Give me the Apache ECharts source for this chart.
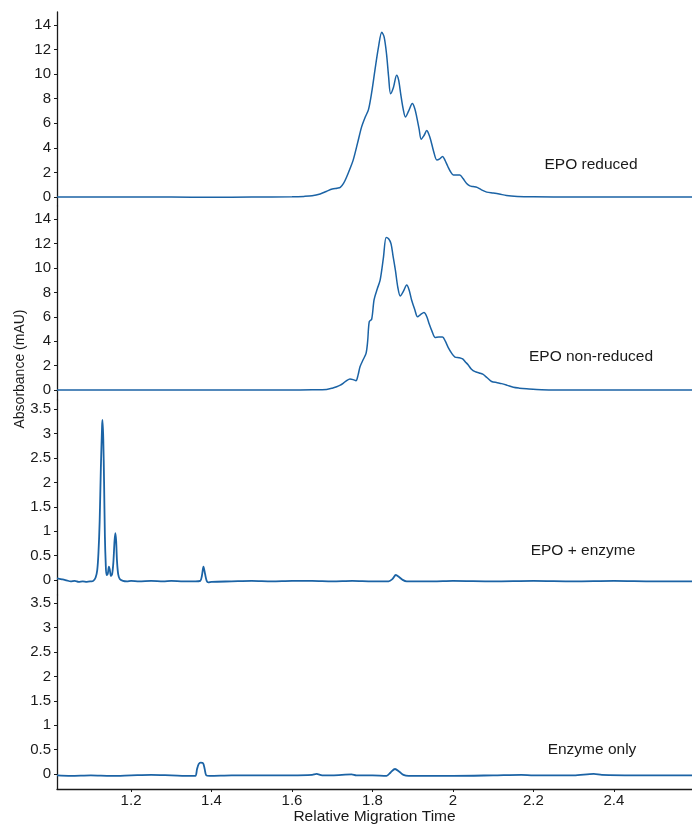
<!DOCTYPE html>
<html>
<head>
<meta charset="utf-8">
<script src="https://cdn.jsdelivr.net/npm/echarts@6/dist/echarts.min.js"></script>
<style>
html,body{margin:0;padding:0;background:#fff;}
#chart{width:692px;height:825px;}
</style>
</head>
<body>
<div id="chart"></div>
<script>
// ---- data (x = relative migration time, y = absorbance mAU) ----
const xTicks = [1.2, 1.4, 1.6, 1.8, 2.0, 2.2, 2.4];
const yTicksLarge = [0, 2, 4, 6, 8, 10, 12, 14];
const yTicksSmall = [0, 0.5, 1, 1.5, 2, 2.5, 3, 3.5];
const panelLabels = ['EPO reduced', 'EPO non-reduced', 'EPO + enzyme', 'Enzyme only'];

const epoReduced = [
  [1.016,0],[1.1,0],[1.2,0],[1.3,0],[1.4,-0.02],[1.5,0],[1.6,0.02],[1.63,0.05],[1.65,0.1],
  [1.67,0.25],[1.685,0.45],[1.7,0.65],[1.712,0.72],[1.72,0.78],[1.728,1.1],[1.736,1.65],
  [1.744,2.3],[1.752,3.0],[1.763,4.4],[1.773,5.7],[1.782,6.5],[1.79,7.1],[1.798,8.5],
  [1.806,10.3],[1.815,12.2],[1.823,13.4],[1.829,13.0],[1.835,11.6],[1.84,9.8],[1.845,8.4],
  [1.852,8.9],[1.86,9.9],[1.865,9.5],[1.87,8.4],[1.876,7.2],[1.882,6.5],[1.89,7.0],
  [1.899,7.6],[1.905,7.2],[1.91,6.5],[1.916,5.5],[1.921,4.7],[1.928,5.0],[1.935,5.4],
  [1.94,5.1],[1.945,4.6],[1.952,3.7],[1.96,3.0],[1.967,3.1],[1.974,3.3],[1.98,3.0],
  [1.987,2.5],[1.995,2.0],[2.001,1.8],[2.01,1.8],[2.017,1.8],[2.025,1.5],[2.034,1.1],
  [2.042,0.9],[2.05,0.85],[2.06,0.78],[2.07,0.6],[2.084,0.4],[2.1,0.33],[2.115,0.25],
  [2.133,0.12],[2.16,0.05],[2.2,0.02],[2.3,0],[2.4,0],[2.5,0],[2.594,0]
];

const epoNonReduced = [
  [1.016,0],[1.2,0],[1.4,0],[1.6,0],[1.65,0.02],[1.686,0.05],[1.7,0.15],[1.711,0.27],
  [1.72,0.4],[1.727,0.55],[1.735,0.75],[1.744,0.9],[1.752,0.85],[1.759,0.76],[1.764,1.2],
  [1.769,1.9],[1.777,2.5],[1.784,3.0],[1.788,4.0],[1.792,5.6],[1.798,5.8],[1.804,7.4],
  [1.812,8.3],[1.819,9.0],[1.827,10.8],[1.834,12.5],[1.84,12.4],[1.846,12.0],[1.851,11.0],
  [1.857,9.8],[1.863,8.4],[1.869,7.7],[1.877,8.1],[1.885,8.6],[1.891,8.2],[1.897,7.4],
  [1.905,6.6],[1.912,6.0],[1.92,6.2],[1.928,6.35],[1.935,6.0],[1.941,5.4],[1.948,4.8],
  [1.956,4.3],[1.965,4.35],[1.974,4.35],[1.981,4.0],[1.988,3.5],[1.997,3.0],[2.005,2.7],
  [2.015,2.65],[2.024,2.55],[2.031,2.3],[2.038,2.05],[2.046,1.7],[2.055,1.5],[2.065,1.4],
  [2.074,1.3],[2.085,1.0],[2.096,0.7],[2.11,0.6],[2.121,0.52],[2.135,0.38],[2.15,0.22],
  [2.165,0.15],[2.183,0.1],[2.22,0.03],[2.3,0],[2.594,0]
];

const epoEnzyme = [
  [1.016,0.03],[1.022,0.02],[1.03,0.01],[1.04,-0.01],[1.05,-0.03],[1.06,-0.02],[1.07,-0.04],
  [1.08,-0.03],[1.09,-0.04],[1.1,-0.03],[1.106,-0.02],[1.112,0.05],[1.116,0.2],[1.119,0.55],
  [1.122,1.2],[1.125,2.3],[1.128,3.15],[1.129,3.28],[1.131,2.9],[1.133,2.0],[1.135,0.9],
  [1.137,0.35],[1.139,0.1],[1.142,0.12],[1.145,0.27],[1.147,0.22],[1.15,0.08],[1.153,0.12],
  [1.156,0.35],[1.159,0.8],[1.161,0.96],[1.163,0.8],[1.165,0.4],[1.168,0.12],[1.172,0.02],
  [1.18,-0.02],[1.19,-0.03],[1.2,-0.02],[1.22,-0.03],[1.25,-0.02],[1.28,-0.03],[1.3,-0.02],
  [1.33,-0.03],[1.36,-0.03],[1.372,-0.02],[1.376,0.08],[1.38,0.27],[1.384,0.12],[1.388,-0.02],
  [1.392,-0.05],[1.4,-0.04],[1.45,-0.03],[1.5,-0.02],[1.55,-0.03],[1.6,-0.02],[1.65,-0.02],
  [1.7,-0.03],[1.75,-0.02],[1.8,-0.03],[1.84,-0.03],[1.85,0.02],[1.858,0.1],[1.866,0.06],
  [1.875,0.0],[1.885,-0.03],[1.95,-0.03],[2.0,-0.02],[2.1,-0.03],[2.2,-0.02],[2.3,-0.03],
  [2.4,-0.02],[2.5,-0.03],[2.594,-0.03]
];

const enzymeOnly = [
  [1.016,-0.03],[1.05,-0.04],[1.1,-0.03],[1.15,-0.04],[1.2,-0.03],[1.25,-0.02],[1.3,-0.03],
  [1.35,-0.04],[1.36,-0.04],[1.364,0.1],[1.368,0.2],[1.373,0.23],[1.379,0.22],[1.383,0.1],
  [1.387,-0.03],[1.395,-0.04],[1.45,-0.03],[1.5,-0.03],[1.55,-0.03],[1.6,-0.03],[1.65,-0.02],
  [1.661,0.0],[1.675,-0.03],[1.7,-0.03],[1.748,-0.01],[1.76,-0.03],[1.8,-0.03],[1.835,-0.04],
  [1.845,0.03],[1.856,0.1],[1.866,0.05],[1.877,-0.02],[1.89,-0.04],[1.95,-0.04],[2.0,-0.04],
  [2.1,-0.03],[2.17,-0.02],[2.2,-0.03],[2.3,-0.03],[2.35,0.0],[2.37,-0.02],[2.45,-0.03],
  [2.55,-0.03],[2.594,-0.03]
];

const panelSeries = [epoReduced, epoNonReduced, epoEnzyme, enzymeOnly];
const yRanges = [[-0.73, 15.04], [-0.82, 15.08], [-0.31, 3.69], [-0.31, 3.67]];
const yTickSets = [yTicksLarge, yTicksLarge, yTicksSmall, yTicksSmall];
const xMin = 1.016, xMax = 2.594;

// ---- layout ----
const FONT = '"Liberation Sans", Arial, sans-serif';
const LINE = '#1b63a5';
const grids = [
  {left: 57, width: 635, top: 12, height: 194},
  {left: 57, width: 635, top: 206, height: 194},
  {left: 57, width: 635, top: 400, height: 195},
  {left: 57, width: 635, top: 595, height: 194}
].map(g => Object.assign(g, {containLabel: false, outerBoundsMode: 'none'}));

const xAxes = grids.map((g, i) => {
  const last = i === grids.length - 1;
  return {
    type: 'value', gridIndex: i, min: xMin, max: xMax,
    show: true,
    axisLine: {show: last, onZero: false, lineStyle: {color: '#1a1a1a', width: 1.3}},
    axisTick: {show: last, inside: false, length: 3, customValues: xTicks, lineStyle: {color: '#1a1a1a'}},
    axisLabel: {show: last, customValues: xTicks, margin: 4, fontFamily: FONT, fontSize: 15, color: '#1a1a1a',
      formatter: v => String(Math.round(v * 10) / 10)},
    splitLine: {show: false},
    name: last ? 'Relative Migration Time' : '',
    nameLocation: 'middle', nameGap: 20,
    nameTextStyle: {fontFamily: FONT, fontSize: 15.5, color: '#1a1a1a'}
  };
});

const yAxes = grids.map((g, i) => ({
  type: 'value', gridIndex: i, min: yRanges[i][0], max: yRanges[i][1],
  axisLine: {show: true, onZero: false, lineStyle: {color: '#1a1a1a', width: 1.3}},
  axisTick: {show: true, inside: false, length: 3, customValues: yTickSets[i], lineStyle: {color: '#1a1a1a'}},
  axisLabel: {show: true, customValues: yTickSets[i], margin: 6, fontFamily: FONT, fontSize: 15, color: '#1a1a1a'},
  splitLine: {show: false}
}));

const series = panelSeries.map((d, i) => ({
  type: 'line', xAxisIndex: i, yAxisIndex: i, data: d,
  showSymbol: false, symbol: 'none', smooth: 0.3, animation: false,
  lineStyle: {color: LINE, width: i < 2 ? 1.5 : 1.8}
}));

const labelPos = [[591, 165], [591, 357], [583, 551], [592, 750]];
const graphic = panelLabels.map((t, i) => ({
  type: 'text', x: labelPos[i][0], y: labelPos[i][1],
  style: {text: t, font: '15.5px ' + FONT, fill: '#1a1a1a', textAlign: 'center', textVerticalAlign: 'middle'}
}));
graphic.push({
  type: 'text', x: 20, y: 369, rotation: Math.PI / 2,
  style: {text: 'Absorbance (mAU)', font: '14px ' + FONT, fill: '#1a1a1a', textAlign: 'center', textVerticalAlign: 'middle'}
});

const chart = echarts.init(document.getElementById('chart'), null, {renderer: 'canvas'});
chart.setOption({
  animation: false,
  backgroundColor: '#fff',
  grid: grids,
  xAxis: xAxes,
  yAxis: yAxes,
  series: series,
  graphic: graphic
});
</script>
</body>
</html>
